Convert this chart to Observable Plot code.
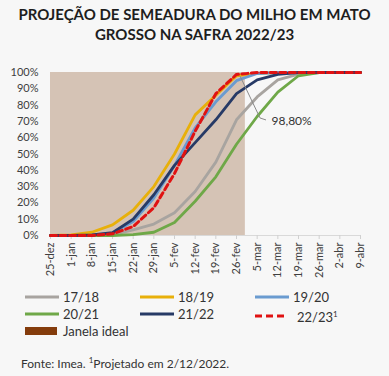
<!DOCTYPE html>
<html><head><meta charset="utf-8">
<script src="https://cdn.jsdelivr.net/npm/d3@7"></script>
<script src="https://cdn.jsdelivr.net/npm/@observablehq/plot@0.6"></script>
<style>
body{margin:0;background:#f7f7f7;font-family:Lato,"Open Sans",sans-serif;width:389px;height:376px;overflow:hidden;position:relative}
#title{position:absolute;top:4px;left:0;width:389px;text-align:center;font-weight:bold;font-size:15px;line-height:20px;color:#1e1e1e}
#chart{position:absolute;top:50px;left:0}
#legend{position:absolute;left:0;top:0;width:389px;height:376px;pointer-events:none}
.li{position:absolute;font-size:13px;color:#333;line-height:16px;display:flex;align-items:center}
.li svg{margin-right:4px}
#foot{position:absolute;left:21px;top:355px;font-size:12px;color:#333}
</style></head>
<body>
<div id="title">PROJEÇÃO DE SEMEADURA DO MILHO EM MATO<br>GROSSO NA SAFRA 2022/23</div>
<div id="chart"></div>
<div id="legend"></div>
<div id="foot">Fonte: Imea. <sup style="font-size:8px">1</sup>Projetado em 2/12/2022.</div>
<script>
const dates = ["2022-12-25","2023-01-01","2023-01-08","2023-01-15","2023-01-22","2023-01-29","2023-02-05","2023-02-12","2023-02-19","2023-02-26","2023-03-05","2023-03-12","2023-03-19","2023-03-26","2023-04-02","2023-04-09"];
const tickLabels = ["25-dez","1-jan","8-jan","15-jan","22-jan","29-jan","5-fev","12-fev","19-fev","26-fev","5-mar","12-mar","19-mar","26-mar","2-abr","9-abr"];
const seriesNames = ["17/18","18/19","19/20","20/21","21/22","22/23"];
const v1718 = [0,0,0,0.5,3.5,7,14,27,45,71,85,95.5,99,100,100,100];
const v1819 = [0,0.3,2,6.5,15.5,30,50,74,86,98,99.5,100,100,100,100,100];
const v1920 = [0,0,0,1.5,8.5,23,43,66,82,95,99.4,100,100,100,100,100];
const v2021 = [0,0,0,0,0.5,2,8,21,36,56,73,88,98,100,100,100];
const v2122 = [0,0,0.3,1.7,10,25,43,57,71,87,95.5,98.8,100,100,100,100];
const v2223 = [0,0,0,1,5.5,17,38,64,87,98.8,100,100,100,100,100,100];
const yTicks = [0,10,20,30,40,50,60,70,80,90,100];
const windowIdeal = ["2022-12-25","2023-03-01"];
const annotation = {date:"2023-02-26", value:98.8, label:"98,80%"};

const colors = ["#a8a4a0","#e8b00a","#6a9bd0","#6fa848","#273a66","#e01212"];
const allValues = [v1718,v1819,v1920,v2021,v2122,v2223];
const parse = s => new Date(s + "T00:00:00Z");
const rows = [];
seriesNames.forEach((s,k) => allValues[k].forEach((v,i) => rows.push({series:s, date:parse(dates[i]), value:v})));
const solid = rows.filter(r => r.series !== "22/23");
const dashed = rows.filter(r => r.series === "22/23");
const labelMap = new Map(dates.map((d,i) => [parse(d).getTime(), tickLabels[i]]));

const chart = Plot.plot({
  width:389, height:245,
  marginLeft:50, marginRight:29, marginTop:22, marginBottom:60,
  style:{background:"transparent", fontFamily:"Lato, sans-serif", fontSize:"11px", color:"#404040"},
  x:{type:"utc", domain:[parse(dates[0]), parse(dates[dates.length-1])]},
  y:{domain:[0,100]},
  color:{domain:seriesNames, range:colors},
  marks:[
    Plot.rect([windowIdeal], {x1:d=>parse(d[0]), x2:d=>parse(d[1]), y1:0, y2:100, fill:"#d5c3b5"}),
    Plot.ruleY([0], {stroke:"#d9d9d9", strokeWidth:1}),
    Plot.axisX({ticks:dates.map(parse), tickFormat:d=>labelMap.get(d.getTime()), tickRotate:-90, tickSize:4, tickPadding:3, stroke:"#d0d0d0", label:null, fontSize:11}),
    Plot.axisY({ticks:yTicks, tickFormat:d=>d+"%", tickSize:0, tickPadding:12, label:null, fontSize:11}),
    Plot.line(solid, {x:"date", y:"value", z:"series", stroke:"series", strokeWidth:2.8, strokeLinejoin:"round"}),
    Plot.line(dashed, {x:"date", y:"value", stroke:"series", strokeWidth:3, strokeDasharray:"6,3.5"}),
    (index, scales) => {
      const x = scales.x(parse(annotation.date)), y = scales.y(annotation.value);
      const p = document.createElementNS("http://www.w3.org/2000/svg","path");
      p.setAttribute("d", `M${x+4},${y+2}L${x+24},${y+44}L${x+30},${y+46}`);
      p.setAttribute("stroke","#8a8a8a"); p.setAttribute("fill","none"); p.setAttribute("stroke-width","1");
      return p;
    },
    Plot.text([annotation], {x:d=>parse(d.date), y:"value", text:"label", dx:35, dy:47, textAnchor:"start", fontSize:12, fill:"#333"})
  ]
});
document.getElementById("chart").appendChild(chart);

// legend (HTML)
const leg = document.getElementById("legend");
const legPos = [[25,297],[140,297],[255,297],[25,314],[140,314],[255,314]];
seriesNames.forEach((s,k) => {
  const d = document.createElement("div");
  d.className = "li";
  const [lx, ly] = legPos[k];
  d.style.left = lx + "px"; d.style.top = (ly - 8) + "px";
  const w = k === 5 ? 33 : 34;
  const dash = k === 5 ? 'stroke-dasharray="7,4"' : '';
  d.innerHTML = `<svg width="${w}" height="6"><line x1="0" y1="3" x2="${w}" y2="3" stroke="${colors[k]}" stroke-width="3" ${dash}/></svg>` +
    (k === 5 ? `<span style="margin-left:5px">${s}<sup style="font-size:8px">1</sup></span>` : `<span>${s}</span>`);
  leg.appendChild(d);
});
const jd = document.createElement("div");
jd.className = "li";
jd.style.left = "25px"; jd.style.top = "323px";
jd.innerHTML = `<svg width="32" height="8" style="margin-right:6px"><rect width="32" height="8" fill="#843c0c"/></svg><span>Janela ideal</span>`;
leg.appendChild(jd);
</script>
</body></html>
